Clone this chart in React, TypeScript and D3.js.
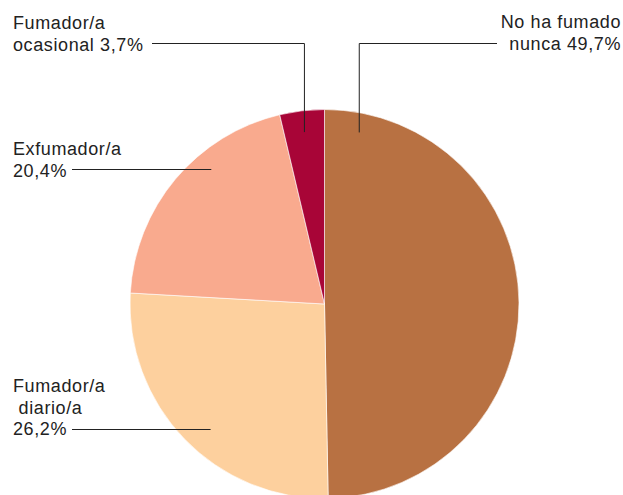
import React from "react";
import * as d3 from "d3";

const categories = ["No ha fumado nunca", "Fumador/a diario/a", "Exfumador/a", "Fumador/a ocasional"];
const values = [49.7, 26.2, 20.4, 3.7];
const colors = ["#B87142", "#FDD09E", "#F9AA8E", "#A80537"];
const labelLines = [
  ["No ha fumado", "nunca 49,7%"],
  ["Fumador/a", " diario/a", "26,2%"],
  ["Exfumador/a", "20,4%"],
  ["Fumador/a", "ocasional 3,7%"],
];

const W = 623, H = 495;
const cx = 324.5, cy = 304, R = 194.5;

// leader config: angle within slice (fraction 0..1), radial fraction, elbow y, text side
const leaders = [
  { t: 0.064, rf: 0.9, y: 43.5, side: "right", textY: 28 },
  { t: 0.46, rf: 0.87, y: 429.5, side: "left", textY: 392 },
  { t: 0.64, rf: 0.91, y: 169.5, side: "left", textY: 155 },
  { t: 0.5, rf: 0.89, y: 43.5, side: "left", textY: 29 },
];

export default function App() {
  const pie = d3.pie<number>().sort(null).value((d) => d)(values);
  const arc = d3.arc<d3.PieArcDatum<number>>().innerRadius(0).outerRadius(R);
  const lh = 21.5;
  return (
    <svg width={W} height={H} style={{ position: "absolute", left: 0, top: 0, background: "#fff" }}
      fontFamily="'Liberation Sans', Arial, sans-serif">
      <g transform={`translate(${cx},${cy})`}>
        {pie.map((p, i) => (
          <path key={i} d={arc(p) || ""} fill={colors[i]} stroke="#fff" strokeWidth={0.6} />
        ))}
      </g>
      {pie.map((p, i) => {
        const L = leaders[i];
        const a = p.startAngle + (p.endAngle - p.startAngle) * L.t;
        const ex = cx + Math.sin(a) * R * L.rf;
        const ey = cy - Math.cos(a) * R * L.rf;
        const lines = labelLines[i];
        let pts: string;
        let tx: number, anchor: string, lineEnd: number;
        if (L.side === "right") {
          lineEnd = 497;
          tx = 621;
          anchor = "end";
        } else {
          lineEnd = i === 3 ? 152 : 72;
          tx = 13;
          anchor = "start";
        }
        const vertical = i === 0 || i === 3;
        if (vertical) {
          pts = `${lineEnd},${L.y} ${ex},${L.y} ${ex},${ey}`;
        } else {
          pts = `${lineEnd},${L.y} ${ex},${L.y}`;
        }
        return (
          <g key={"l" + i}>
            <polyline points={pts} fill="none" stroke="#222" strokeWidth={1} />
            <text x={tx} y={L.textY} textAnchor={anchor} fontSize={18} fill="#222" letterSpacing={0.6} style={{ whiteSpace: "pre" }}>
              {lines.map((s, j) => (
                <tspan key={j} x={tx} dy={j === 0 ? 0 : lh} xmlSpace="preserve">{s}</tspan>
              ))}
            </text>
          </g>
        );
      })}
    </svg>
  );
}
